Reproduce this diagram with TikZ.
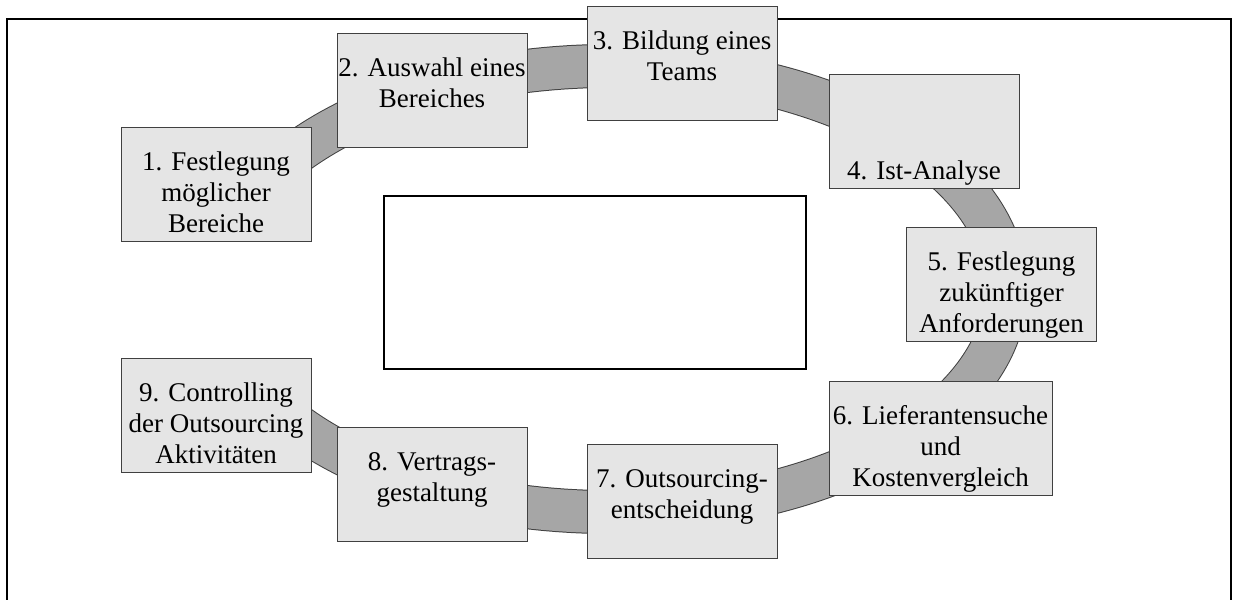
\documentclass[tikz,border=0pt]{standalone}
\usepackage{fontspec}
\setmainfont{Liberation Serif}
\begin{document}
\begin{tikzpicture}[
	x=0.5pt, y=0.5pt,
	rahmen/.style={line width=1pt, black},
	mitte/.style={line width=0.8pt, black, fill=white},
	ring/.style={line width=0.5pt, draw=black!75, double=black!35, double distance=21pt},
	schritt/.style={draw=black!75, line width=0.5pt, fill=black!10, minimum width=95pt, minimum height=57pt, inner sep=0pt},
	txt/.style={font=\fontsize{13.5pt}{15.5pt}\selectfont, align=center, inner sep=0pt, anchor=north, yshift=-10.65pt},
	]
	\useasboundingbox (0,0) rectangle (1233,600);
	
	\def\ra{396}     % Halbachse des Rings, waagrecht
	\def\rb{223}     % Halbachse des Rings, senkrecht
	\def\phi{153}    % Enden des Rings (unter Schritt 1 und 9)
	
	% Rahmen, unten offen
	\draw[rahmen] (7,0) -- (7,581) -- (1231,581) -- (1231,0);
	% leeres Feld in der Mitte
	\draw[mitte] (384,231) rectangle (806,404);
	
	% Ring hinter den Schritten
	\coordinate (m) at (610,311);
	\draw[ring] ({610+\ra*cos(\phi)},{311+\rb*sin(\phi)})
		arc[start angle=\phi, end angle=-\phi, x radius=\ra*0.5pt, y radius=\rb*0.5pt];
	
	% Schritte
	\node[schritt] (s1) at (216,415.5) {};
	\node[txt] (t1) at (s1.north) {\strut 1. Festlegung\\ möglicher\\ Bereiche};
	\node[schritt] (s2) at (432,509.5) {};
	\node[txt] (t2) at (s2.north) {\strut 2. Auswahl eines\\ Bereiches};
	\node[schritt] (s3) at (682,536.5) {};
	\node[txt] (t3) at (s3.north) {\strut 3. Bildung eines\\ Teams};
	\node[schritt] (s4) at (924,468) {};
	\node[txt] (t4) at (s4.north) {\strut\\ \strut\\ 4. Ist-Analyse};
	\node[schritt] (s5) at (1001.5,315.5) {};
	\node[txt] (t5) at (s5.north) {\strut 5. Festlegung\\ zukünftiger\\ Anforderungen};
	\node[schritt, minimum width=111.5pt] (s6) at (940.5,161.5) {};
	\node[txt] (t6) at (s6.north) {\strut 6. Lieferantensuche\\ und\\ Kostenvergleich};
	\node[schritt] (s7) at (682,98) {};
	\node[txt] (t7) at (s7.north) {\strut 7. Outsourcing-\\ entscheidung};
	\node[schritt] (s8) at (432,115) {};
	\node[txt] (t8) at (s8.north) {\strut 8. Vertrags-\\ gestaltung};
	\node[schritt] (s9) at (216,184) {};
	\node[txt] (t9) at (s9.north) {\strut 9. Controlling\\ der Outsourcing\\ Aktivitäten};
	
\end{tikzpicture}
\end{document}
